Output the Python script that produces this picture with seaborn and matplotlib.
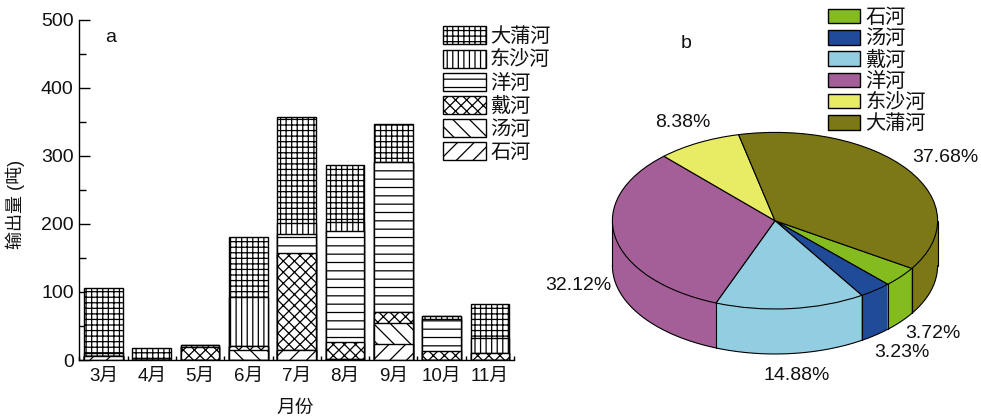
import numpy as np
import pandas as pd
import matplotlib
matplotlib.use('Agg')
import matplotlib.pyplot as plt
from matplotlib.patches import Patch
import seaborn as sns

# ---------------- data ----------------
months = ['3月', '4月', '5月', '6月', '7月', '8月', '9月', '10月', '11月']
rivers = ['石河', '汤河', '戴河', '洋河', '东沙河', '大蒲河']
shihe = [6, 0, 0, 0, 15, 2, 24, 0, 0]
tanghe = [0, 0, 0, 14, 0, 0, 31, 0, 0]
daihe = [0, 0, 19, 6, 143, 24, 15, 13, 10]
yanghe = [0, 0, 0, 0, 28, 164, 221, 48, 0]
dongshahe = [4, 0, 3, 73, 16, 13, 0, 4, 22]
dapuhe = [96, 18, 0, 88, 155, 84, 56, 0, 51]
yticks = [0, 100, 200, 300, 400, 500]

pie_pct = [3.72, 3.23, 14.88, 32.12, 8.38, 37.68]
pie_labels = ['3.72%', '3.23%', '14.88%', '32.12%', '8.38%', '37.68%']

# ---------------- style ----------------
hatches = ['//', '\\\\', 'xxx', '--', '|||', '+++']
pie_colors = ['#84BC1F', '#1F4B99', '#93CDE1', '#A45E98', '#E8EC64', '#7C7816']
label_px = [(933, 333), (902, 352), (797, 375), (578, 286), (683, 122), (945, 157)]

sns.set_theme(style='ticks')
plt.rcParams['font.family'] = ['Liberation Sans', 'Noto Sans CJK SC']
plt.rcParams['hatch.linewidth'] = 0.9
plt.rcParams['text.color'] = '#111111'

W, H = 981, 419
fig = plt.figure(figsize=(W / 100, H / 100), dpi=100)


def fx(px):
    return px / W


def fy(py):
    return 1 - py / H


# ---------------- bar chart (a) ----------------
ax1 = fig.add_axes([fx(79.3), fy(360), (514 - 79.3) / W, (360 - 20) / H])
series = [shihe, tanghe, daihe, yanghe, dongshahe, dapuhe]
df = pd.DataFrame({'月份': months})
for r, s in zip(rivers, series):
    df[r] = s
cum = df[rivers].cumsum(axis=1)
for k in range(len(rivers) - 1, -1, -1):
    sns.barplot(x=df['月份'], y=cum[rivers[k]], color='white', saturation=1,
                edgecolor='black', linewidth=1, hatch=hatches[k], width=0.8,
                errorbar=None, ax=ax1)

ax1.set_xlim(-0.5, 8.5)
ax1.set_ylim(0, 500)
ax1.set_yticks(yticks)
ax1.set_yticks(np.arange(50, 500, 100), minor=True)
ax1.set_xticks(np.arange(-0.5, 9, 1), minor=True)
ax1.tick_params(axis='y', which='major', direction='in', length=8, width=1,
                labelsize=14, pad=4, color='black', labelcolor='#111111')
ax1.tick_params(axis='y', which='minor', direction='in', length=5, width=1, color='black')
ax1.tick_params(axis='x', which='major', length=0, labelsize=13.5, pad=6, labelcolor='#111111')
ax1.tick_params(axis='x', which='minor', direction='in', length=3, width=1, color='black')
ax1.set_xlabel('')
ax1.set_ylabel('')
sns.despine(ax=ax1)
for sp in ['left', 'bottom']:
    ax1.spines[sp].set_color('black')
    ax1.spines[sp].set_linewidth(1)

fs_leg = 14.5
em = fs_leg * 100 / 72
handles = [Patch(facecolor='white', edgecolor='black', hatch=hatches[k], linewidth=1)
           for k in range(len(rivers) - 1, -1, -1)]
fig.legend(handles, rivers[::-1], loc='upper left', bbox_to_anchor=(fx(443), fy(26.5)),
           bbox_transform=fig.transFigure, frameon=False, fontsize=fs_leg,
           handlelength=43 / em, handleheight=20 / em, labelspacing=0.16,
           handletextpad=0.2, borderpad=0, borderaxespad=0)

fig.text(fx(111), fy(38), 'a', fontsize=14, ha='center', va='center')
fig.text(fx(15), fy(204), '输出量 (吨)', fontsize=13, rotation=90, ha='center', va='center')
fig.text(fx(295), fy(408), '月份', fontsize=13.5, ha='center', va='center')

# ---------------- 3D pie chart (b) ----------------
cx, cy, a, b, depth_px = 775, 220.7, 162.6, 88.3, 45
d = depth_px / b
m = 0.03
ax2 = fig.add_axes([fx(cx - a * (1 + m)), fy(cy + b * (1 + m + d)),
                    2 * a * (1 + m) / W, b * (2 + 2 * m + d) / H])
start = -32.7
for t in np.linspace(d, 0.004, 70):
    ax2.pie(pie_pct, colors=pie_colors, startangle=start, counterclock=False,
            center=(0, -t), wedgeprops=dict(linewidth=0, edgecolor='none'))
ax2.pie(pie_pct, colors=pie_colors, startangle=start, counterclock=False,
        center=(0, 0), wedgeprops=dict(linewidth=0.8, edgecolor='black'))
th = np.linspace(np.pi, 2 * np.pi, 300)
ax2.plot(np.cos(th), np.sin(th) - d, color='black', lw=0.8)
ax2.plot([-1, -1], [0, -d], color='black', lw=0.8)
ax2.plot([1, 1], [0, -d], color='black', lw=0.8)
fr = np.concatenate([[0], np.cumsum(pie_pct) / np.sum(pie_pct)])
for f in fr:
    ang = np.radians(start - 360 * f)
    if np.sin(ang) < -0.01:
        ax2.plot([np.cos(ang)] * 2, [np.sin(ang), np.sin(ang) - d], color='black', lw=0.8)
ax2.set_xlim(-1 - m, 1 + m)
ax2.set_ylim(-1 - m - d, 1 + m)
ax2.set_aspect('auto')
ax2.axis('off')

for lab, (px, py) in zip(pie_labels, label_px):
    fig.text(fx(px), fy(py), lab, fontsize=14, ha='center', va='center')

fig.text(fx(686), fy(43), 'b', fontsize=14, ha='center', va='center')

phandles = [Patch(facecolor=c, edgecolor='black', linewidth=1) for c in pie_colors]
fig.legend(phandles, rivers, loc='upper left', bbox_to_anchor=(fx(828), fy(8)),
           bbox_transform=fig.transFigure, frameon=False, fontsize=fs_leg,
           handlelength=32 / em, handleheight=15 / em, labelspacing=0.11,
           handletextpad=0.25, borderpad=0, borderaxespad=0)

fig.savefig('out.png', dpi=100)
